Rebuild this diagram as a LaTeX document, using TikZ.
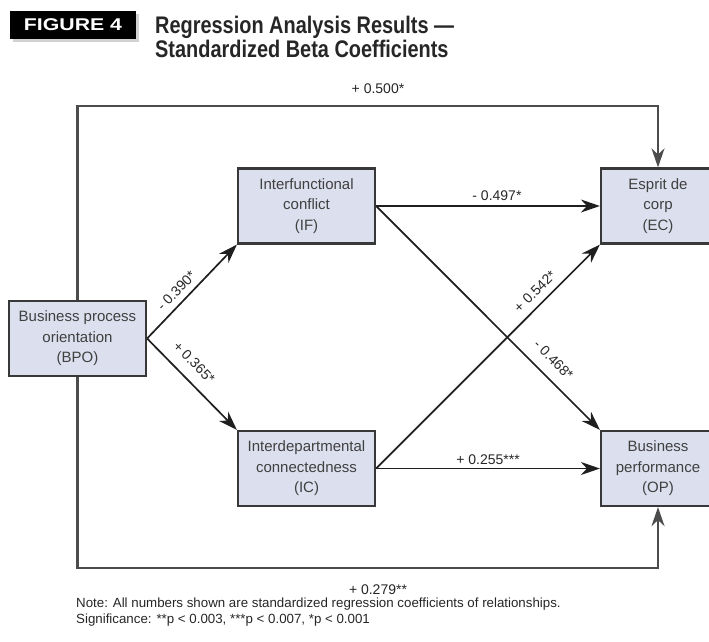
\documentclass[tikz,border=0pt]{standalone}
\usepackage{fontspec}
\setmainfont{Liberation Sans}
\newfontfamily\titlefont[FakeStretch=0.83]{Liberation Sans}
\newfontfamily\widefont[FakeStretch=1.25]{Liberation Sans}
\usepackage{tikz}
\usetikzlibrary{positioning,calc,arrows.meta,shadows}

\definecolor{boxfill}{HTML}{DCDFEE}
\definecolor{boxline}{HTML}{383838}
\definecolor{boxtext}{HTML}{404040}

\tikzset{
    factor/.style={draw=boxline, line width=2.2pt, fill=boxfill, minimum width=137pt,
        minimum height=75pt, align=center, text=boxtext, inner sep=0pt,
        font=\fontsize{15}{20.5}\selectfont},
    link/.style={draw=black!88, line width=1.7pt,
        -{Stealth[length=19pt,width=13pt,inset=6pt]}},
    loop/.style={link, draw=black!70, line width=2.2pt},
    coef/.style={font=\fontsize{14}{16}\selectfont, text=black!85, inner sep=3pt},
    note/.style={font=\fontsize{13.3}{15}\selectfont, text=black!85, anchor=base west, inner sep=0pt},
}

\begin{document}
\begin{tikzpicture}[x=1pt, y=-1pt]
    \useasboundingbox (0,0) rectangle (709,641);
    \clip (0,0) rectangle (709,641);

    % Heading
    \node[fill=black, text=white, font=\widefont\bfseries\fontsize{17}{17}\selectfont,
        minimum width=126pt, minimum height=28pt, inner sep=0pt,
        drop shadow={shadow xshift=3pt, shadow yshift=-3pt, fill=black!35}] (badge) at (73,25) {FIGURE 4};
    \node[anchor=base west, inner sep=0pt, font=\titlefont\bfseries\fontsize{24}{24}\selectfont, text=black!85]
        (title) at (155,33) {Regression Analysis Results —};
    \node[anchor=base west, inner sep=0pt, font=\titlefont\bfseries\fontsize{24}{24}\selectfont, text=black!85]
        (subtitle) at (155,57) {Standardized Beta Coefficients};

    % Factors
    \node[factor] (bpo) at (77.5,338.5) {Business process\\orientation\\(BPO)};
    \node[factor] (ifc) at (306.5,206) {Interfunctional\\conflict\\(IF)};
    \node[factor] (icn) at (306.5,468.5) {Interdepartmental\\connectedness\\(IC)};
    \node[factor, minimum width=114pt] (ec) at (658,206) {Esprit de\\corp\\(EC)};
    \node[factor, minimum width=114pt] (op) at (658,468.5) {Business\\performance\\(OP)};

    % Outer paths
    \coordinate (top) at (0,106);
    \coordinate (bottom) at (0,568);
    \draw[loop] (bpo.north) -- (bpo.north |- top) -| (ec.north);
    \draw[loop] (bpo.south) -- (bpo.south |- bottom) -| (op.south);
    \node[coef, above] (b500) at (378,97) {+ 0.500*};
    \node[coef, below] (b279) at (378,582) {+ 0.279**};

    % Paths between factors
    \draw[link] (bpo.east) -- (ifc.south west) node[coef, pos=0.42, sloped, above=3pt] {- 0.390*};
    \draw[link] (bpo.east) -- (icn.north west) node[coef, pos=0.39, sloped, above=8pt] {+ 0.365*};
    \draw[link] (ifc.east) -- (ec.west) node[coef, pos=0.54, above=2pt] {- 0.497*};
    \draw[link] (ifc.east) -- (op.north west) node[coef, pos=0.74, sloped, above=8pt] {- 0.468*};
    \draw[link] (icn.east) -- (ec.south west) node[coef, pos=0.75, sloped, above=4pt] {+ 0.542*};
    \draw[link] (icn.east) -- (op.west) node[coef, pos=0.5, above] {+ 0.255***};

    % Note
    \node[note] (remark) at (76,607) {Note: All numbers shown are standardized regression coefficients of relationships.};
    \node[note] (signif) at (76,623) {Significance: **p < 0.003, ***p < 0.007, *p < 0.001};
\end{tikzpicture}
\end{document}
